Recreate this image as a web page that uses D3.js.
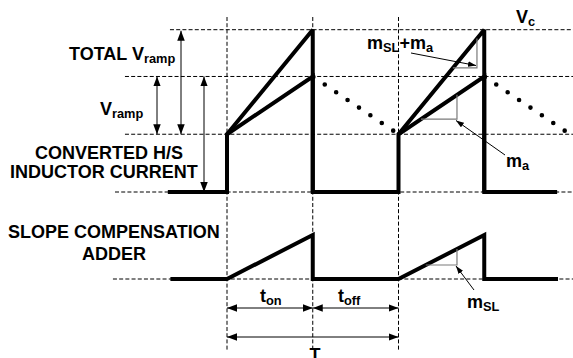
<!DOCTYPE html>
<html>
<head>
<meta charset="utf-8">
<script src="https://cdn.jsdelivr.net/npm/d3@7/dist/d3.min.js"></script>
<style>
  html, body { margin: 0; padding: 0; background: #fff; }
  svg text { font-family: "Liberation Sans", Arial, Helvetica, sans-serif; font-weight: bold; fill: #000; }
</style>
</head>
<body>
<svg id="chart" width="573" height="358"></svg>
<script>
// ---------- data (time in switching-interval units, amplitude in relative units) ----------
// time marks: turn-on, turn-off, next turn-on
const timeMarks = [0, 1, 2];
// upper panel reference levels: zero, valley current, peak current, Vc
const upperLevels = [0, 1, 2, 2.81];
const upperGuideStart = [-1.306, -1.19, -1.19, -0.665];
// converted high-side inductor current (thick)
const currentT = [-0.69, 0, 0, 1, 1, 2, 2, 3, 3, 3.85];
const currentV = [0, 0, 1, 2, 0, 0, 1, 2, 0, 0];
// total ramp (current + slope compensation)
const totalT = [0, 1, 1, null, 2, 3, 3];
const totalV = [1, 2.81, 0, null, 1, 2.81, 0];
// off-time inductor current decay (dotted)
const decayT = [[1, 2], [3, 4]];
const decayV = [[2, 1], [2, 1]];
// slope compensation adder (lower panel)
const adderT = [-0.66, 0, 1, 1, 2, 3, 3, 3.86];
const adderV = [0, 0, 1, 0, 0, 1, 0, 0];
const lowerGuideStart = -1.33;
// slope triangles: [t at start of horizontal leg, t at vertical leg]
const triTotal = [2.634, 2.915];
const triMa = [2.262, 2.682];
const triSL = [2.318, 2.682];

// ---------- scales ----------
const svg = d3.select("#chart");
const x = d3.scaleLinear().domain([0, 4]).range([227, 570]);
const yU = d3.scaleLinear().domain([0, 2.81]).range([192, 29.7]);
const yL = d3.scaleLinear().domain([0, 1]).range([279, 235]);

// markers
const defs = svg.append("defs");
function marker(id, len, wid) {
  defs.append("marker").attr("id", id)
    .attr("markerUnits", "userSpaceOnUse")
    .attr("viewBox", `0 ${-wid/2} ${len} ${wid}`)
    .attr("refX", len).attr("refY", 0)
    .attr("markerWidth", len).attr("markerHeight", wid)
    .attr("orient", "auto-start-reverse")
    .append("path").attr("d", `M0,${-wid/2}L${len},0L0,${wid/2}Z`).attr("fill", "#000");
}
marker("big", 10, 7.5);
marker("small", 8, 5.5);

const dash = "4,2.2";
// horizontal guides
upperLevels.forEach((lv, i) => {
  svg.append("line").attr("x1", x(upperGuideStart[i])).attr("x2", 573)
    .attr("y1", yU(lv)).attr("y2", yU(lv))
    .attr("stroke", "#000").attr("stroke-width", 1).attr("stroke-dasharray", dash);
});
svg.append("line").attr("x1", x(lowerGuideStart)).attr("x2", 573)
  .attr("y1", yL(0)).attr("y2", yL(0))
  .attr("stroke", "#000").attr("stroke-width", 1).attr("stroke-dasharray", dash);
// vertical guides
timeMarks.forEach(t => {
  svg.append("line").attr("x1", x(t)).attr("x2", x(t)).attr("y1", 17).attr("y2", 350)
    .attr("stroke", "#000").attr("stroke-width", 1).attr("stroke-dasharray", dash);
});

// waveforms
const lineU = d3.line().defined(d => d[0] !== null).x(d => x(d[0])).y(d => yU(d[1]));
const lineL = d3.line().x(d => x(d[0])).y(d => yL(d[1]));
const thick = sel => sel.attr("fill", "none").attr("stroke", "#000").attr("stroke-width", 4)
  .attr("stroke-linejoin", "miter").attr("stroke-miterlimit", 2.5);

svg.append("path").attr("d", lineU(currentT.map((t, i) => [t, currentV[i]]))).call(thick);
svg.append("path").attr("d", lineU(totalT.map((t, i) => [t, totalV[i]]))).call(thick);
svg.append("path").attr("d", lineL(adderT.map((t, i) => [t, adderV[i]]))).call(thick);

decayT.forEach((ts, k) => {
  const p = svg.append("path").attr("d", lineU(ts.map((t, i) => [t, decayV[k][i]])))
    .attr("fill", "none").attr("stroke", "#000").attr("stroke-width", 4.6)
    .attr("stroke-linecap", "round");
  const L = p.node().getTotalLength();
  const step = L * 0.133;
  p.attr("stroke-dasharray", `0,${step}`).attr("stroke-dashoffset", -L * 0.14);
});

// slope triangles (thin gray)
function tri(ta, tb, f, ys) {
  const ya = ys(f(ta)), yb = ys(f(tb));
  svg.append("path").attr("d", `M${x(ta)},${ya}L${x(tb)},${ya}L${x(tb)},${yb}`)
    .attr("fill", "none").attr("stroke", "#7a7a7a").attr("stroke-width", 1.2);
}
tri(triTotal[0], triTotal[1], t => 1 + 1.81 * (t - 2), yU);
tri(triMa[0], triMa[1], t => 1 + (t - 2), yU);
tri(triSL[0], triSL[1], t => (t - 2), yL);

// arrows
function arrow(x1, y1, x2, y2, m, both) {
  const l = svg.append("line").attr("x1", x1).attr("y1", y1).attr("x2", x2).attr("y2", y2)
    .attr("stroke", "#000").attr("stroke-width", 1).attr("marker-end", `url(#${m})`);
  if (both) l.attr("marker-start", `url(#${m})`);
}
arrow(157, yU(2), 157, yU(1), "big", true);
arrow(181, yU(2.81) + 1, 181, yU(1), "big", true);
arrow(204, yU(2), 204, yU(0), "big", true);
arrow(x(0), 308, x(1), 308, "big", true);
arrow(x(1), 308, x(2), 308, "big", true);
arrow(x(0), 337, x(2), 337, "big", true);
arrow(411, 53, 476, 65.5, "small", false);
arrow(505, 155, 456, 120.5, "small", false);
arrow(474, 290, 456, 266, "small", false);

// labels
const FS = 18, SS = 12.8;
function label(xp, yp, main, sub, tail, anchor) {
  const t = svg.append("text").attr("x", xp).attr("y", yp)
    .attr("font-size", FS).attr("text-anchor", anchor || "start");
  t.append("tspan").text(main);
  if (sub) t.append("tspan").attr("font-size", SS).attr("dy", 2.5).text(sub);
  if (tail) {
    t.append("tspan").attr("dy", -2.5).text(tail[0]);
    t.append("tspan").attr("font-size", SS).attr("dy", 2.5).text(tail[1]);
  }
  return t;
}
label(69, 60, "TOTAL V", "ramp");
label(100, 115, "V", "ramp");
label(35, 159, "CONVERTED H/S");
label(10, 178, "INDUCTOR CURRENT");
label(8, 238, "SLOPE COMPENSATION");
label(82, 260, "ADDER");
label(516, 23, "V", "c");
label(367, 49, "m", "SL", ["+m", "a"]);
label(506, 167, "m", "a");
label(467, 308, "m", "SL");
label(260, 302, "t", "on");
label(338, 302, "t", "off");
label(315, 361, "T", null, null, "middle");
</script>
</body>
</html>
